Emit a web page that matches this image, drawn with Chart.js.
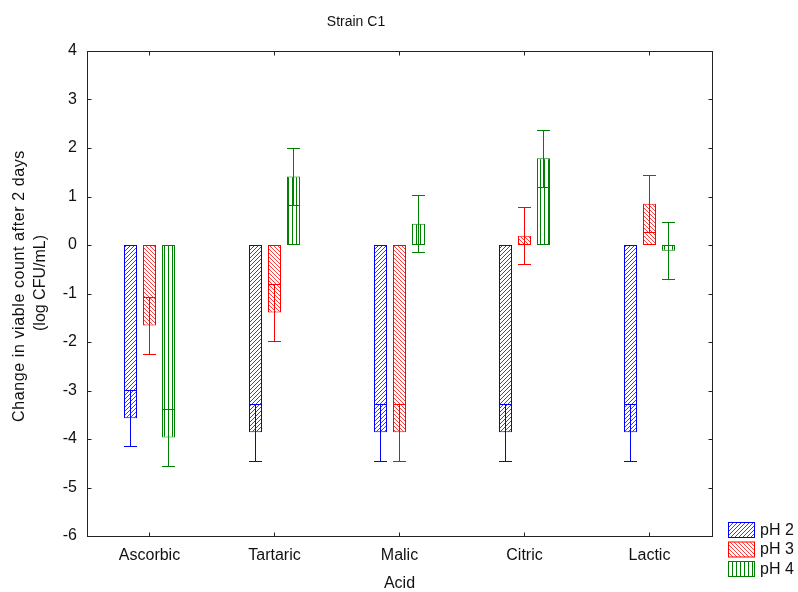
<!DOCTYPE html>
<html>
<head>
<meta charset="utf-8">
<script src="https://cdn.jsdelivr.net/npm/chart.js@4/dist/chart.umd.min.js"></script>
<style>
  html, body { margin: 0; padding: 0; background: #fff; }
  #wrap { width: 798px; height: 592px; }
</style>
</head>
<body>
<div id="wrap"><canvas id="chart" width="798" height="592"></canvas></div>
<script>
// Data.
var acids = ['Ascorbic', 'Tartaric', 'Malic', 'Citric', 'Lactic'];
var seriesNames = ['pH 2', 'pH 3', 'pH 4'];
var ph2Means = [-3.57, -3.86, -3.86, -3.86, -3.86];
var ph3Means = [-1.66, -1.39, -3.86, 0.19, 0.85];
var ph4Means = [-3.97, 1.41, 0.44, 1.79, -0.12];
var ph2Errors = [0.58, 0.59, 0.59, 0.59, 0.59];
var ph3Errors = [0.59, 0.59, 0.59, 0.59, 0.59];
var ph4Errors = [0.59, 0.59, 0.59, 0.59, 0.59];
var yMin = -6;
var yMax = 4;

var FONT = '"Liberation Sans", Arial, sans-serif';
var TEXT_COLOR = '#111';
var FRAME_COLOR = '#222';

var canvas = document.getElementById('chart');
var mainCtx = canvas.getContext('2d');

/**
 * @description Build a small repeating hatch pattern on a white tile.
 *
 * @param color: string
 * @param kind: 'up' | 'down' | 'vertical'
 *
 * @return CanvasPattern
 */
function makeHatch(color, kind) {
  var size = 4;
  var tile = document.createElement('canvas');
  tile.width = size;
  tile.height = size;
  var ctx = tile.getContext('2d');
  ctx.fillStyle = '#ffffff';
  ctx.fillRect(0, 0, size, size);
  ctx.fillStyle = color;
  if (kind === 'vertical') {
    ctx.fillRect(0, 0, 1, size);
  } else {
    // One pixel per row, stepping diagonally.
    for (var k = 0; k < size; k++) {
      var px = kind === 'up' ? size - 1 - k : k;
      ctx.fillRect(px, k, 1, 1);
    }
  }
  return mainCtx.createPattern(tile, 'repeat');
}

var colors = ['#0000ff', '#ff0000', '#008000'];
var hatches = [
  makeHatch('#3c3cff', 'up'),
  makeHatch('#ff3c3c', 'down'),
  makeHatch('#008000', 'vertical'),
];
var means = [ph2Means, ph3Means, ph4Means];
var errors = [ph2Errors, ph3Errors, ph4Errors];

var datasets = seriesNames.map(function (name, i) {
  return {
    label: name,
    data: means[i],
    errors: errors[i],
    backgroundColor: hatches[i],
    borderColor: colors[i],
    hoverBackgroundColor: hatches[i],
    hoverBorderColor: colors[i],
    borderWidth: 1,
    borderSkipped: false,
    inflateAmount: 0,
    categoryPercentage: 0.456,
    barPercentage: 13 / 19,
  };
});

/**
 * @description Error bars: vertical line with caps at mean +/- error.
 */
var errorBarsPlugin = {
  id: 'errorBars',
  afterDatasetsDraw: function (chart) {
    var ctx = chart.ctx;
    var yScale = chart.scales.y;
    ctx.save();
    ctx.lineWidth = 1;
    chart.data.datasets.forEach(function (ds, i) {
      var meta = chart.getDatasetMeta(i);
      ctx.strokeStyle = ds.borderColor;
      meta.data.forEach(function (bar, j) {
        var x = Math.floor(bar.x) + 0.5;
        var left = Math.round(bar.x - bar.width / 2);
        var right = Math.round(bar.x + bar.width / 2);
        var top = Math.round(yScale.getPixelForValue(ds.data[j] + ds.errors[j])) + 0.5;
        var bottom = Math.round(yScale.getPixelForValue(ds.data[j] - ds.errors[j])) + 0.5;
        ctx.beginPath();
        ctx.moveTo(x, top);
        ctx.lineTo(x, bottom);
        ctx.moveTo(left, top);
        ctx.lineTo(right, top);
        ctx.moveTo(left, bottom);
        ctx.lineTo(right, bottom);
        ctx.stroke();
      });
    });
    ctx.restore();
  },
};

/**
 * @description Frame around the plot, inward ticks, titles and legend.
 */
var decorPlugin = {
  id: 'decor',
  afterDraw: function (chart) {
    var ctx = chart.ctx;
    var area = chart.chartArea;
    var xScale = chart.scales.x;
    var yScale = chart.scales.y;
    var l = Math.round(area.left) + 0.5;
    var r = Math.round(area.right) + 0.5;
    var t = Math.round(area.top) + 0.5;
    var b = Math.round(area.bottom) + 0.5;

    ctx.save();
    ctx.strokeStyle = FRAME_COLOR;
    ctx.lineWidth = 1;
    ctx.strokeRect(l, t, r - l, b - t);

    // Inward ticks.
    ctx.beginPath();
    yScale.ticks.forEach(function (tick) {
      var y = Math.round(yScale.getPixelForValue(tick.value)) + 0.5;
      ctx.moveTo(l, y);
      ctx.lineTo(l + 4, y);
      ctx.moveTo(r, y);
      ctx.lineTo(r - 4, y);
    });
    acids.forEach(function (name, i) {
      var x = Math.floor(xScale.getPixelForValue(i)) + 0.5;
      ctx.moveTo(x, b);
      ctx.lineTo(x, b - 4);
      ctx.moveTo(x, t);
      ctx.lineTo(x, t + 4);
    });
    ctx.stroke();

    // Titles.
    ctx.fillStyle = TEXT_COLOR;
    ctx.textAlign = 'center';
    ctx.textBaseline = 'middle';
    ctx.font = '14px ' + FONT;
    ctx.fillText('Strain C1', 356, 22);
    ctx.font = '16px ' + FONT;
    ctx.fillText('Acid', (area.left + area.right) / 2, 584);

    ctx.save();
    ctx.translate(20, 286);
    ctx.rotate(-Math.PI / 2);
    ctx.letterSpacing = '0.6px';
    ctx.fillText('Change in viable count after 2 days', 0, 0);
    ctx.restore();
    ctx.save();
    ctx.translate(41, 283);
    ctx.rotate(-Math.PI / 2);
    ctx.fillText('(log CFU/mL)', 0, 0);
    ctx.restore();

    // Legend.
    ctx.textAlign = 'left';
    chart.data.datasets.forEach(function (ds, i) {
      var bx = 728.5;
      var by = 522.5 + i * 19.5;
      ctx.fillStyle = ds.backgroundColor;
      ctx.fillRect(bx, by, 26, 15);
      ctx.strokeStyle = ds.borderColor;
      ctx.strokeRect(bx, by, 26, 15);
      ctx.fillStyle = TEXT_COLOR;
      ctx.fillText(ds.label, 760, by + 8);
    });
    ctx.restore();
  },
};

var chart = new Chart(canvas, {
  type: 'bar',
  data: {
    labels: acids,
    datasets: datasets,
  },
  options: {
    responsive: false,
    animation: false,
    devicePixelRatio: 1,
    events: [],
    layout: {
      padding: { top: 51, right: 86, left: 0, bottom: 0 },
    },
    plugins: {
      legend: { display: false },
      title: { display: false },
      tooltip: { enabled: false },
    },
    scales: {
      x: {
        grid: { display: false, drawTicks: false },
        border: { display: false },
        ticks: {
          color: TEXT_COLOR,
          font: { family: FONT, size: 16 },
          padding: 10,
          maxRotation: 0,
        },
        afterFit: function (scale) {
          scale.height = 56;
        },
      },
      y: {
        min: yMin,
        max: yMax,
        grid: { display: false, drawTicks: false },
        border: { display: false },
        ticks: {
          stepSize: 1,
          color: TEXT_COLOR,
          font: { family: FONT, size: 16 },
          padding: 10,
        },
        afterFit: function (scale) {
          scale.width = 87;
        },
      },
    },
  },
  plugins: [errorBarsPlugin, decorPlugin],
});
</script>
</body>
</html>
